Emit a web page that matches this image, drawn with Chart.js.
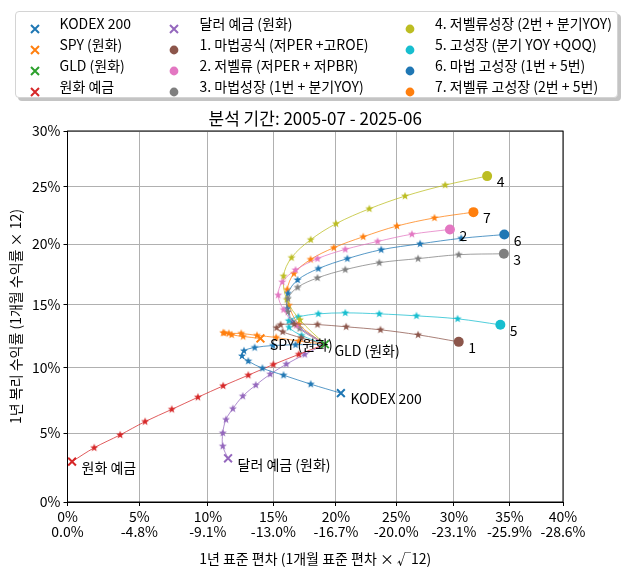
<!DOCTYPE html>
<html>
<head>
<meta charset="utf-8">
<script src="https://cdn.jsdelivr.net/npm/chart.js@4.4.1/dist/chart.umd.min.js"></script>
<style>
  html, body { margin: 0; padding: 0; background: #fff; }
  #wrap { position: relative; width: 627px; height: 579px; }
  #legend {
    position: absolute; left: 15px; top: 11px; width: 601px; height: 85px;
    border: 1px solid #d4d4d4; border-radius: 4px; background: #fff;
    box-shadow: 3px 3px 0 #c4c4c4;
    font-family: 'Noto Sans CJK KR', 'Noto Sans', sans-serif; font-size: 14px; color: #000;
  }
  .mk { position: absolute; width: 10px; height: 10px; }
  .tx { position: absolute; white-space: nowrap; line-height: 16px; }
</style>
</head>
<body>
<div id="wrap">
  <canvas id="myChart"></canvas>
  <div id="legend"></div>
</div>
<script>
// labels
const assetLabels = ['KODEX 200', 'SPY (원화)', 'GLD (원화)', '원화 예금', '달러 예금 (원화)'];
const strategyLabels = [
  '1. 마법공식 (저PER +고ROE)',
  '2. 저벨류 (저PER + 저PBR)',
  '3. 마법성장 (1번 + 분기YOY)',
  '4. 저벨류성장 (2번 + 분기YOY)',
  '5. 고성장 (분기 YOY +QOQ)',
  '6. 마법 고성장 (1번 + 5번)',
  '7. 저벨류 고성장 (2번 + 5번)'
];
const strategyTags = ['1', '2', '3', '4', '5', '6', '7'];
const assetColors = ['#1f77b4', '#ff7f0e', '#2ca02c', '#d62728', '#9467bd'];
const strategyColors = ['#8c564b', '#e377c2', '#7f7f7f', '#bcbd22', '#17becf', '#1f77b4', '#ff7f0e'];

// [1y std %, 1y compound return %], mixes with GLD, GLD side first, last = 100% asset
const gld = [19.1, 11.8];
const curveKodex = [[16.75, 11.76], [14.97, 11.70], [13.55, 11.54], [12.73, 11.28], [12.58, 10.88], [13.06, 10.48], [14.15, 9.92], [15.8, 9.38], [17.96, 8.69], [20.4, 8.0]];
const curveSpy = [[17.0, 12.05], [15.22, 12.34], [13.73, 12.5], [12.52, 12.66], [11.58, 12.66], [11.15, 12.71], [11.24, 12.69], [11.79, 12.55], [12.67, 12.42], [14.0, 12.26]];
const curveKrw = [[17.0, 11.0], [15.0, 10.21], [13.06, 9.38], [11.15, 8.56], [9.26, 7.69], [7.34, 6.77], [5.41, 5.85], [3.64, 4.86], [1.83, 3.91], [0.31, 2.9]];
const curveUsd = [[17.48, 11.0], [16.02, 10.24], [14.76, 9.46], [13.64, 8.62], [12.64, 7.77], [11.88, 6.82], [11.36, 6.0], [11.12, 5.0], [11.12, 4.03], [11.52, 3.14]];
const curveS1 = [[17.2, 12.31], [15.73, 12.79], [15.25, 13.11], [15.57, 13.35], [16.65, 13.40], [18.5, 13.37], [20.83, 13.19], [23.68, 12.95], [26.88, 12.55], [30.43, 11.99]];
const curveS2 = [[16.8, 13.3], [15.8, 14.57], [15.38, 15.75], [15.7, 16.83], [16.75, 17.83], [18.5, 18.78], [20.76, 19.56], [23.44, 20.23], [26.35, 20.85], [29.65, 21.26]];
const curveS3 = [[17.07, 13.05], [16.15, 14.39], [16.15, 15.47], [16.91, 16.39], [18.5, 17.17], [20.76, 17.86], [23.58, 18.44], [26.88, 18.78], [30.43, 19.11], [34.49, 19.19]];
const curveS4 = [[17.1, 13.75], [16.05, 15.39], [15.8, 17.31], [16.43, 18.86], [17.96, 20.38], [20.0, 21.75], [22.75, 23.04], [25.76, 24.15], [29.24, 25.12], [32.97, 25.92]];
const curveS5 = [[17.23, 12.5], [16.24, 13.14], [16.21, 13.67], [16.97, 13.99], [18.57, 14.23], [20.76, 14.31], [23.58, 14.23], [26.74, 14.07], [30.33, 13.83], [34.17, 13.35]];
const curveS6 = [[16.5, 13.6], [16.09, 14.65], [16.15, 15.89], [16.91, 17.0], [18.57, 17.94], [20.93, 18.78], [23.74, 19.53], [27.05, 20.03], [30.65, 20.5], [34.53, 20.82]];
const curveS7 = [[17.0, 13.4], [16.22, 14.92], [16.09, 16.21], [16.62, 17.53], [17.95, 18.71], [19.82, 19.7], [22.24, 20.63], [25.07, 21.55], [28.3, 22.25], [31.74, 22.75]];

const xTicks = [0, 5, 10, 15, 20, 25, 30, 35, 40];
const yTicks = [0, 5, 10, 15, 20, 25, 30];

const assetCurves = [curveKodex, curveSpy, null, curveKrw, curveUsd];
const strategyCurves = [curveS1, curveS2, curveS3, curveS4, curveS5, curveS6, curveS7];

// axes are log(1 + v)
const tx = v => Math.log1p(v / 100);
const toPt = p => ({ x: tx(p[0]), y: tx(p[1]) });
const FONT = "'Noto Sans CJK KR', 'Noto Sans', sans-serif";

function alpha(hex, a) {
  const n = parseInt(hex.slice(1), 16);
  return `rgba(${n >> 16},${(n >> 8) & 255},${n & 255},${a})`;
}

function makeStar(color) {
  const c = document.createElement('canvas');
  c.width = 10; c.height = 10;
  const g = c.getContext('2d');
  g.fillStyle = color;
  g.beginPath();
  for (let i = 0; i < 10; i++) {
    const r = i % 2 ? 1.7 : 4.2;
    const a = -Math.PI / 2 + i * Math.PI / 5;
    g.lineTo(5 + r * Math.cos(a), 5 + r * Math.sin(a));
  }
  g.closePath();
  g.fill();
  return c;
}

function curveSet(curve, color) {
  const pts = [gld].concat(curve).map(toPt);
  return {
    data: pts,
    showLine: true,
    borderColor: alpha(color, 0.75),
    borderWidth: 1,
    tension: 0.35,
    pointStyle: makeStar(color),
    pointRadius: c => (c.dataIndex === 0 || c.dataIndex === pts.length - 1) ? 0 : 3,
    order: 1
  };
}

const datasets = [];
const endPoints = [];
assetLabels.forEach((name, i) => {
  const c = assetCurves[i];
  const end = c ? c[c.length - 1] : gld;
  if (c) datasets.push(curveSet(c, assetColors[i]));
  endPoints.push({ p: end, text: name });
  datasets.push({
    data: [toPt(end)], pointStyle: 'crossRot', pointRadius: 5.5,
    borderColor: assetColors[i], backgroundColor: assetColors[i], borderWidth: 2, order: 0
  });
});
strategyLabels.forEach((name, i) => {
  const c = strategyCurves[i];
  const end = c[c.length - 1];
  datasets.push(curveSet(c, strategyColors[i]));
  endPoints.push({ p: end, text: strategyTags[i] });
  datasets.push({
    data: [toPt(end)], pointStyle: 'circle', pointRadius: 5,
    borderWidth: 0, backgroundColor: strategyColors[i], order: 0
  });
});

// title, frame and point labels
const extras = {
  id: 'extras',
  afterDraw(chart) {
    const { ctx, chartArea: a, scales } = chart;
    ctx.save();
    ctx.strokeStyle = '#000';
    ctx.lineWidth = 1;
    ctx.strokeRect(a.left, a.top, a.right - a.left, a.bottom - a.top);
    ctx.fillStyle = '#000';
    ctx.font = `14px ${FONT}`;
    ctx.textAlign = 'left';
    ctx.textBaseline = 'middle';
    endPoints.forEach(e => {
      const px = scales.x.getPixelForValue(tx(e.p[0]));
      const py = scales.y.getPixelForValue(tx(e.p[1]));
      ctx.fillText(e.text, px + 9.5, py + 6);
    });
    ctx.font = `17px ${FONT}`;
    ctx.textAlign = 'center';
    ctx.fillText('분석 기간: 2005-07 - 2025-06', (a.left + a.right) / 2, 119);
    ctx.restore();
  }
};

const pct0 = r => Math.round(r * 100) + '%';
const pct1 = r => (Math.round(r * 1000) / 10).toFixed(1) + '%';

const config = {
  type: 'scatter',
  data: { datasets },
  options: {
    responsive: true,
    maintainAspectRatio: false,
    animation: false,
    layout: { padding: { top: 131, right: 64, left: 0, bottom: 0 }, autoPadding: false },
    plugins: { legend: { display: false }, tooltip: { enabled: false }, title: { display: false } },
    scales: {
      x: {
        type: 'linear', min: 0, max: tx(40),
        afterBuildTicks: s => { s.ticks = xTicks.map(v => ({ value: tx(v) })); },
        afterFit: s => { s.height = 77; },
        ticks: {
          autoSkip: false, maxRotation: 0, padding: 3, color: '#000',
          font: { family: FONT, size: 14, lineHeight: 1.08 },
          callback: v => { const r = Math.expm1(v); return [pct0(r), pct1(1 / (1 + r) - 1)]; }
        },
        grid: { color: '#b0b0b0', tickColor: '#000', tickLength: 4 },
        border: { color: '#000' },
        title: {
          display: true, text: '1년 표준 편차 (1개월 표준 편차 × √12)', color: '#000',
          font: { family: FONT, size: 14 }, padding: { top: 0, bottom: 12 }
        }
      },
      y: {
        type: 'linear', min: 0, max: tx(30),
        afterBuildTicks: s => { s.ticks = yTicks.map(v => ({ value: tx(v) })); },
        afterFit: s => { s.width = 67.5; },
        ticks: {
          autoSkip: false, padding: 3, color: '#000',
          font: { family: FONT, size: 14 },
          callback: v => pct0(Math.expm1(v))
        },
        grid: { color: '#b0b0b0', tickColor: '#000', tickLength: 4 },
        border: { color: '#000' },
        title: {
          display: true, text: '1년 복리 수익률 (1개월 수익률 × 12)', color: '#000',
          font: { family: FONT, size: 14 }, padding: { top: 7, bottom: 0 }
        }
      }
    }
  },
  plugins: [extras]
};

const myChart = new Chart(document.getElementById('myChart'), config);

// legend, 4 rows x 3 columns, column-major
const legendItems = assetLabels.map((t, i) => ({ t, c: assetColors[i], m: 'x' }))
  .concat(strategyLabels.map((t, i) => ({ t, c: strategyColors[i], m: 'o' })));
const colMarkX = [18.5, 157.5, 394];
const colTextX = [43.5, 183.5, 419];
const rowY = [10.5, 31.5, 52.5, 73.5];
const legend = document.getElementById('legend');
legendItems.forEach((it, k) => {
  const col = Math.floor(k / 4), row = k % 4;
  const mk = document.createElement('div');
  mk.className = 'mk';
  mk.style.left = (colMarkX[col] - 5) + 'px';
  mk.style.top = (rowY[row] - 5) + 'px';
  mk.innerHTML = it.m === 'x'
    ? `<svg width="10" height="10"><path d="M1,1L9,9M9,1L1,9" stroke="${it.c}" stroke-width="2"/></svg>`
    : `<svg width="10" height="10"><circle cx="5" cy="5" r="4.4" fill="${it.c}"/></svg>`;
  const tx2 = document.createElement('div');
  tx2.className = 'tx';
  tx2.style.left = colTextX[col] + 'px';
  tx2.style.top = (rowY[row] - 8) + 'px';
  tx2.textContent = it.t;
  legend.appendChild(mk);
  legend.appendChild(tx2);
});
</script>
</body>
</html>
